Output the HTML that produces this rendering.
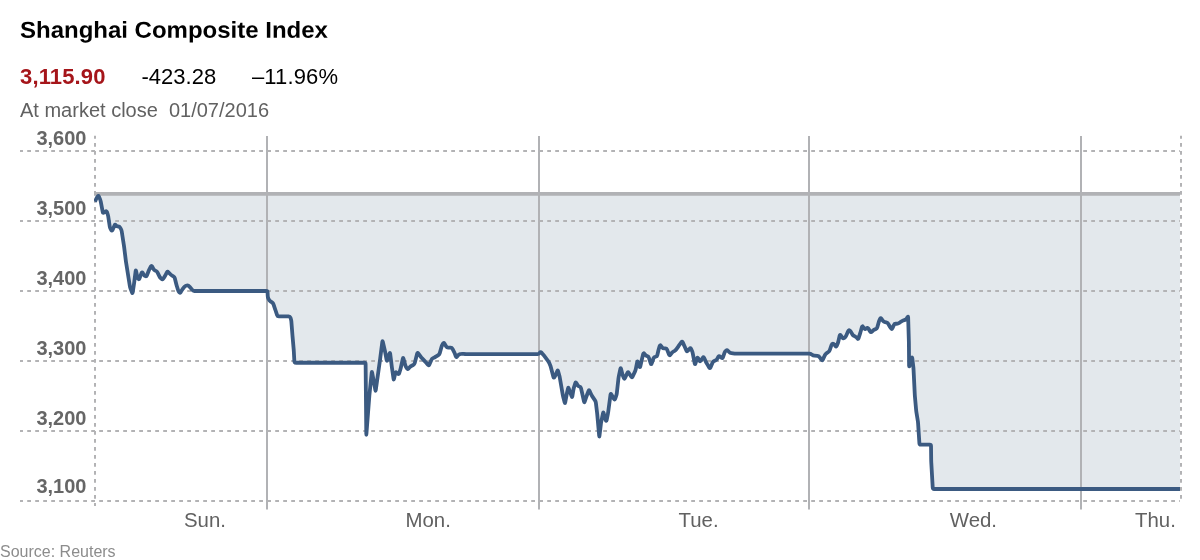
<!DOCTYPE html>
<html><head><meta charset="utf-8"><title>Shanghai Composite Index</title>
<style>
html,body{margin:0;padding:0;background:#fff;}
body{width:1200px;height:560px;overflow:hidden;position:relative;font-family:"Liberation Sans",sans-serif;}
svg{position:absolute;left:0;top:0;display:block;will-change:transform;}
text{font-family:"Liberation Sans",sans-serif;}
</style></head><body>
<svg width="1200" height="560" viewBox="0 0 1200 560">
<rect width="1200" height="560" fill="#fff"/>
<text x="20" y="0" transform="translate(0,37.7) rotate(0.03) scale(1,0.96)" font-size="24" font-weight="bold" fill="#000">Shanghai Composite Index</text>
<text x="20" y="83.8" font-size="22" font-weight="bold" fill="#a5151a" letter-spacing="0.15">3,115.90</text>
<text x="141.5" y="83.8" font-size="22" fill="#000">-423.28</text>
<text x="252" y="83.8" font-size="22" fill="#000" letter-spacing="0.12">–11.96%</text>
<text x="20" y="116.8" font-size="20" fill="#616161" xml:space="preserve">At market close  01/07/2016</text>
<path d="M95.00,201.60 L96.27,198.79 Q96.80,197.60 97.59,196.57 L97.71,196.43 Q98.50,195.40 98.99,196.60 L100.01,199.10 Q100.50,200.30 100.75,201.58 L102.75,212.02 Q103.00,213.30 104.04,212.52 L105.46,211.48 Q106.50,210.70 106.93,211.93 L107.57,213.77 Q108.00,215.00 108.20,216.28 L109.80,226.72 Q110.00,228.00 110.67,229.11 L111.33,230.19 Q112.00,231.30 112.51,230.10 L114.49,225.40 Q115.00,224.20 115.85,225.18 L116.15,225.52 Q117.00,226.50 118.25,226.50 L118.25,226.50 Q119.50,226.50 120.14,227.63 L120.86,228.87 Q121.50,230.00 121.70,231.28 L123.80,244.72 Q124.00,246.00 124.16,247.29 L125.84,260.71 Q126.00,262.00 126.21,263.28 L129.79,285.72 Q130.00,287.00 130.45,288.22 L132.05,292.58 Q132.50,293.80 132.70,292.51 L133.80,285.29 Q134.00,284.00 134.16,282.71 L135.64,270.99 Q135.80,269.70 136.06,270.97 L137.24,276.73 Q137.50,278.00 138.25,278.90 L138.25,278.90 Q139.00,279.80 139.45,278.58 L141.55,272.92 Q142.00,271.70 142.65,272.82 L143.85,274.88 Q144.50,276.00 145.50,276.25 L145.50,276.25 Q146.50,276.50 146.97,275.29 L148.53,271.21 Q149.00,270.00 149.60,268.85 L150.90,266.35 Q151.50,265.20 152.10,266.35 L153.40,268.85 Q154.00,270.00 155.16,270.58 L155.84,270.92 Q157.00,271.50 157.58,272.66 L159.42,276.34 Q160.00,277.50 160.96,278.38 L161.54,278.92 Q162.50,279.80 163.21,278.71 L164.29,277.09 Q165.00,276.00 165.60,274.85 L166.90,272.35 Q167.50,271.20 168.38,272.16 L170.12,274.04 Q171.00,275.00 172.13,275.64 L173.37,276.36 Q174.50,277.00 174.82,278.26 L176.18,283.74 Q176.50,285.00 176.88,286.24 L178.12,290.26 Q178.50,291.50 179.25,292.40 L179.25,292.40 Q180.00,293.30 180.67,292.19 L181.33,291.11 Q182.00,290.00 182.76,288.94 L183.74,287.56 Q184.50,286.50 185.66,285.92 L186.34,285.58 Q187.50,285.00 188.52,285.81 L188.98,286.19 Q190.00,287.00 190.78,288.04 L192.22,289.96 Q193.00,291.00 194.30,291.00 L266.20,291.00 Q267.50,291.00 267.56,292.30 L267.74,296.20 Q267.80,297.50 268.40,298.66 L268.80,299.44 Q269.40,300.60 270.48,301.33 L272.02,302.37 Q273.10,303.10 273.51,304.33 L274.59,307.52 Q275.00,308.75 275.40,309.99 L277.10,315.16 Q277.50,316.40 278.80,316.40 L288.70,316.40 Q290.00,316.40 290.43,317.63 L290.82,318.77 Q291.25,320.00 291.35,321.30 L292.40,334.70 Q292.50,336.00 292.62,337.29 L293.63,348.71 Q293.75,350.00 293.82,351.30 L294.33,360.60 Q294.40,361.90 294.70,362.32 L294.70,362.32 Q295.00,362.75 296.30,362.75 L364.30,362.75 Q365.60,362.75 365.61,364.05 L366.29,434.10 Q366.30,435.40 366.40,434.10 L369.30,396.30 Q369.40,395.00 369.54,393.71 L371.76,372.49 Q371.90,371.20 372.13,372.48 L375.37,390.12 Q375.60,391.40 375.78,390.11 L379.82,361.29 Q380.00,360.00 380.16,358.71 L382.34,341.74 Q382.50,340.45 382.79,341.72 L384.71,349.98 Q385.00,351.25 385.24,352.53 L386.66,360.12 Q386.90,361.40 387.28,360.16 L387.72,358.74 Q388.10,357.50 388.55,356.28 L389.55,353.52 Q390.00,352.30 390.16,353.59 L391.74,366.21 Q391.90,367.50 392.09,368.79 L393.56,378.91 Q393.75,380.20 394.03,378.93 L395.32,372.97 Q395.60,371.70 396.56,372.57 L397.79,373.68 Q398.75,374.55 399.15,373.31 L400.20,369.99 Q400.60,368.75 400.88,367.48 L402.82,358.57 Q403.10,357.30 403.45,358.55 L405.25,365.00 Q405.60,366.25 406.25,367.38 L406.85,368.42 Q407.50,369.55 408.39,368.60 L409.71,367.20 Q410.60,366.25 411.77,365.68 L413.23,364.97 Q414.40,364.40 414.72,363.14 L417.18,353.56 Q417.50,352.30 418.26,353.35 L420.49,356.45 Q421.25,357.50 422.17,358.42 L424.08,360.33 Q425.00,361.25 425.83,362.25 L427.92,364.80 Q428.75,365.80 429.28,364.61 L431.37,359.94 Q431.90,358.75 433.06,358.17 L434.44,357.48 Q435.60,356.90 436.69,356.19 L438.31,355.11 Q439.40,354.40 439.76,353.15 L441.54,346.85 Q441.90,345.60 442.54,344.47 L443.11,343.43 Q443.75,342.30 444.42,343.41 L446.23,346.39 Q446.90,347.50 448.20,347.56 L450.60,347.69 Q451.90,347.75 452.51,348.90 L453.79,351.35 Q454.40,352.50 454.84,353.72 L455.81,356.48 Q456.25,357.70 457.04,356.66 L457.96,355.44 Q458.75,354.40 460.02,354.12 L460.63,353.98 Q461.90,353.70 463.19,353.87 L463.71,353.93 Q465.00,354.10 466.30,354.10 L537.45,354.10 Q538.75,354.10 539.54,353.07 L539.81,352.73 Q540.60,351.70 541.48,352.65 L542.22,353.45 Q543.10,354.40 543.88,355.44 L547.97,360.86 Q548.75,361.90 549.26,363.10 L550.09,365.05 Q550.60,366.25 550.93,367.51 L553.42,377.04 Q553.75,378.30 554.44,377.20 L554.81,376.60 Q555.50,375.50 555.98,374.29 L557.22,371.11 Q557.70,369.90 558.06,371.15 L559.24,375.25 Q559.60,376.50 559.82,377.78 L562.68,394.42 Q562.90,395.70 563.23,396.96 L564.67,402.44 Q565.00,403.70 565.23,402.42 L566.47,395.58 Q566.70,394.30 566.98,393.03 L568.02,388.37 Q568.30,387.10 568.74,388.32 L569.96,391.68 Q570.40,392.90 570.83,394.13 L571.67,396.47 Q572.10,397.70 572.31,396.42 L573.39,389.88 Q573.60,388.60 573.98,387.36 L575.32,383.04 Q575.70,381.80 576.33,382.94 L577.47,384.96 Q578.10,386.10 579.34,386.48 L579.46,386.52 Q580.70,386.90 580.99,388.17 L582.11,393.03 Q582.40,394.30 582.68,395.57 L584.02,401.63 Q584.30,402.90 584.71,401.67 L586.29,396.93 Q586.70,395.70 587.16,394.48 L588.54,390.82 Q589.00,389.60 589.53,390.79 L590.87,393.81 Q591.40,395.00 592.12,396.08 L594.98,400.32 Q595.70,401.40 595.86,402.69 L596.94,411.61 Q597.10,412.90 597.22,414.19 L599.18,435.91 Q599.30,437.20 599.45,435.91 L600.85,424.19 Q601.00,422.90 601.26,421.63 L603.04,413.07 Q603.30,411.80 603.62,413.06 L604.68,417.34 Q605.00,418.60 605.57,419.77 L605.83,420.33 Q606.40,421.50 606.65,420.22 L607.85,414.18 Q608.10,412.90 608.27,411.61 L610.53,394.49 Q610.70,393.20 611.34,394.33 L612.26,395.97 Q612.90,397.10 613.57,398.21 L614.03,398.99 Q614.70,400.10 615.12,398.87 L616.28,395.53 Q616.70,394.30 616.84,393.01 L618.46,378.39 Q618.60,377.10 618.88,375.83 L620.42,368.77 Q620.70,367.50 621.02,368.76 L622.08,373.04 Q622.40,374.30 622.85,375.52 L623.85,378.18 Q624.30,379.40 624.86,378.23 L627.44,372.87 Q628.00,371.70 628.71,372.79 L631.29,376.71 Q632.00,377.80 632.56,376.63 L634.94,371.67 Q635.50,370.50 635.76,369.23 L637.24,361.97 Q637.50,360.70 637.93,361.93 L639.57,366.57 Q640.00,367.80 640.28,366.53 L641.22,362.27 Q641.50,361.00 641.80,359.74 L643.20,353.96 Q643.50,352.70 644.32,353.71 L645.18,354.79 Q646.00,355.80 647.25,356.15 L647.25,356.15 Q648.50,356.50 648.90,357.74 L650.80,363.56 Q651.20,364.80 651.64,363.58 L653.56,358.22 Q654.00,357.00 655.28,356.79 L655.72,356.71 Q657.00,356.50 657.29,355.23 L658.21,351.27 Q658.50,350.00 658.85,348.75 L659.65,345.95 Q660.00,344.70 660.81,345.72 L662.19,347.48 Q663.00,348.50 664.30,348.39 L665.20,348.31 Q666.50,348.20 666.98,349.41 L669.02,354.59 Q669.50,355.80 670.31,354.78 L671.69,353.02 Q672.50,352.00 673.66,351.42 L674.34,351.08 Q675.50,350.50 676.25,349.43 L678.25,346.57 Q679.00,345.50 679.78,344.46 L681.42,342.24 Q682.20,341.20 682.76,342.37 L683.44,343.83 Q684.00,345.00 684.52,346.19 L686.48,350.61 Q687.00,351.80 687.84,350.81 L689.66,348.69 Q690.50,347.70 691.05,348.88 L691.95,350.82 Q692.50,352.00 692.75,353.28 L694.75,363.52 Q695.00,364.80 695.40,363.56 L697.10,358.24 Q697.50,357.00 698.10,358.15 L699.40,360.65 Q700.00,361.80 700.74,360.73 L702.76,357.77 Q703.50,356.70 704.06,357.87 L705.94,361.83 Q706.50,363.00 707.17,364.11 L709.33,367.69 Q710.00,368.80 710.49,367.60 L712.51,362.70 Q713.00,361.50 714.19,360.99 L715.31,360.51 Q716.50,360.00 717.15,358.88 L718.35,356.82 Q719.00,355.70 720.00,356.53 L721.50,357.77 Q722.50,358.60 722.93,357.37 L724.57,352.73 Q725.00,351.50 725.97,350.63 L726.03,350.57 Q727.00,349.70 727.87,350.66 L729.13,352.04 Q730.00,353.00 731.29,353.15 L734.71,353.55 Q736.00,353.70 737.30,353.70 L809.30,353.70 Q810.60,353.70 811.64,354.49 L812.06,354.81 Q813.10,355.60 814.40,355.69 L817.45,355.91 Q818.75,356.00 819.52,357.05 L821.48,359.75 Q822.25,360.80 822.81,359.63 L825.04,354.92 Q825.60,353.75 826.69,353.04 L828.31,351.96 Q829.40,351.25 829.81,350.02 L831.49,344.98 Q831.90,343.75 832.83,343.75 L832.83,343.75 Q833.75,343.75 834.54,344.79 L835.46,346.01 Q836.25,347.05 836.74,345.85 L837.61,343.70 Q838.10,342.50 838.39,341.23 L839.71,335.47 Q840.00,334.20 840.72,335.29 L842.38,337.81 Q843.10,338.90 844.12,338.09 L844.58,337.71 Q845.60,336.90 846.13,335.71 L848.22,330.99 Q848.75,329.80 849.67,330.52 L849.67,330.52 Q850.60,331.25 851.25,332.38 L852.45,334.47 Q853.10,335.60 854.30,336.10 L855.05,336.40 Q856.25,336.90 856.99,337.97 L857.36,338.48 Q858.10,339.55 858.50,338.31 L860.20,333.14 Q860.60,331.90 860.93,330.64 L861.92,326.96 Q862.25,325.70 863.01,326.76 L864.24,328.49 Q865.00,329.55 865.97,328.68 L866.53,328.17 Q867.50,327.30 868.21,328.39 L870.29,331.61 Q871.00,332.70 871.89,331.75 L872.86,330.70 Q873.75,329.75 874.99,329.36 L875.66,329.14 Q876.90,328.75 877.25,327.50 L878.65,322.50 Q879.00,321.25 879.53,320.06 L880.07,318.89 Q880.60,317.70 881.38,318.74 L882.97,320.86 Q883.75,321.90 885.03,322.11 L886.22,322.29 Q887.50,322.50 888.14,323.63 L889.36,325.77 Q890.00,326.90 890.76,327.96 L891.14,328.49 Q891.90,329.55 892.41,328.36 L893.89,324.94 Q894.40,323.75 895.70,323.75 L896.80,323.75 Q898.10,323.75 899.15,322.99 L900.85,321.76 Q901.90,321.00 903.12,320.55 L905.03,319.85 Q906.25,319.40 906.89,318.27 L907.46,317.23 Q908.10,316.10 908.14,317.40 L908.86,341.20 Q908.90,342.50 908.91,343.80 L909.09,365.80 Q909.10,367.10 909.46,365.85 L911.74,358.05 Q912.10,356.80 912.25,358.09 L913.35,367.21 Q913.50,368.50 913.56,369.80 L914.74,393.70 Q914.80,395.00 914.91,396.30 L916.09,409.70 Q916.20,411.00 916.41,412.28 L917.79,420.72 Q918.00,422.00 918.09,423.30 L919.41,443.40 Q919.50,444.70 920.80,444.70 L929.70,444.70 Q931.00,444.70 931.02,446.00 L931.18,459.70 Q931.20,461.00 931.27,462.30 L932.73,487.70 Q932.80,489.00 934.10,489.00 L1180.00,489.00 L1180,193.8 L95,193.8 Z" fill="#e3e8ec"/>
<g stroke="#b3b3b5" stroke-width="2" stroke-dasharray="3.8 4.2" stroke-dashoffset="0.8" fill="none">
<line x1="20" y1="151" x2="1180" y2="151"/><line x1="20" y1="221" x2="1180" y2="221"/><line x1="20" y1="291" x2="1180" y2="291"/><line x1="20" y1="361" x2="1180" y2="361"/><line x1="20" y1="431" x2="1180" y2="431"/><line x1="20" y1="501" x2="1180" y2="501"/>
<line x1="95" y1="135.8" x2="95" y2="506"/>
<line x1="1181" y1="135.8" x2="1181" y2="502"/>
</g>
<g stroke="#b1b2b5" stroke-width="2" fill="none"><line x1="267" y1="136" x2="267" y2="509.5"/><line x1="539" y1="136" x2="539" y2="509.5"/><line x1="809" y1="136" x2="809" y2="509.5"/><line x1="1081" y1="136" x2="1081" y2="509.5"/></g>
<line x1="94" y1="193.8" x2="1180" y2="193.8" stroke="#b1b2b5" stroke-width="3.8"/>
<clipPath id="c"><rect x="94" y="130" width="1086.5" height="380"/></clipPath>
<path clip-path="url(#c)" d="M95.00,201.60 L96.27,198.79 Q96.80,197.60 97.59,196.57 L97.71,196.43 Q98.50,195.40 98.99,196.60 L100.01,199.10 Q100.50,200.30 100.75,201.58 L102.75,212.02 Q103.00,213.30 104.04,212.52 L105.46,211.48 Q106.50,210.70 106.93,211.93 L107.57,213.77 Q108.00,215.00 108.20,216.28 L109.80,226.72 Q110.00,228.00 110.67,229.11 L111.33,230.19 Q112.00,231.30 112.51,230.10 L114.49,225.40 Q115.00,224.20 115.85,225.18 L116.15,225.52 Q117.00,226.50 118.25,226.50 L118.25,226.50 Q119.50,226.50 120.14,227.63 L120.86,228.87 Q121.50,230.00 121.70,231.28 L123.80,244.72 Q124.00,246.00 124.16,247.29 L125.84,260.71 Q126.00,262.00 126.21,263.28 L129.79,285.72 Q130.00,287.00 130.45,288.22 L132.05,292.58 Q132.50,293.80 132.70,292.51 L133.80,285.29 Q134.00,284.00 134.16,282.71 L135.64,270.99 Q135.80,269.70 136.06,270.97 L137.24,276.73 Q137.50,278.00 138.25,278.90 L138.25,278.90 Q139.00,279.80 139.45,278.58 L141.55,272.92 Q142.00,271.70 142.65,272.82 L143.85,274.88 Q144.50,276.00 145.50,276.25 L145.50,276.25 Q146.50,276.50 146.97,275.29 L148.53,271.21 Q149.00,270.00 149.60,268.85 L150.90,266.35 Q151.50,265.20 152.10,266.35 L153.40,268.85 Q154.00,270.00 155.16,270.58 L155.84,270.92 Q157.00,271.50 157.58,272.66 L159.42,276.34 Q160.00,277.50 160.96,278.38 L161.54,278.92 Q162.50,279.80 163.21,278.71 L164.29,277.09 Q165.00,276.00 165.60,274.85 L166.90,272.35 Q167.50,271.20 168.38,272.16 L170.12,274.04 Q171.00,275.00 172.13,275.64 L173.37,276.36 Q174.50,277.00 174.82,278.26 L176.18,283.74 Q176.50,285.00 176.88,286.24 L178.12,290.26 Q178.50,291.50 179.25,292.40 L179.25,292.40 Q180.00,293.30 180.67,292.19 L181.33,291.11 Q182.00,290.00 182.76,288.94 L183.74,287.56 Q184.50,286.50 185.66,285.92 L186.34,285.58 Q187.50,285.00 188.52,285.81 L188.98,286.19 Q190.00,287.00 190.78,288.04 L192.22,289.96 Q193.00,291.00 194.30,291.00 L266.20,291.00 Q267.50,291.00 267.56,292.30 L267.74,296.20 Q267.80,297.50 268.40,298.66 L268.80,299.44 Q269.40,300.60 270.48,301.33 L272.02,302.37 Q273.10,303.10 273.51,304.33 L274.59,307.52 Q275.00,308.75 275.40,309.99 L277.10,315.16 Q277.50,316.40 278.80,316.40 L288.70,316.40 Q290.00,316.40 290.43,317.63 L290.82,318.77 Q291.25,320.00 291.35,321.30 L292.40,334.70 Q292.50,336.00 292.62,337.29 L293.63,348.71 Q293.75,350.00 293.82,351.30 L294.33,360.60 Q294.40,361.90 294.70,362.32 L294.70,362.32 Q295.00,362.75 296.30,362.75 L364.30,362.75 Q365.60,362.75 365.61,364.05 L366.29,434.10 Q366.30,435.40 366.40,434.10 L369.30,396.30 Q369.40,395.00 369.54,393.71 L371.76,372.49 Q371.90,371.20 372.13,372.48 L375.37,390.12 Q375.60,391.40 375.78,390.11 L379.82,361.29 Q380.00,360.00 380.16,358.71 L382.34,341.74 Q382.50,340.45 382.79,341.72 L384.71,349.98 Q385.00,351.25 385.24,352.53 L386.66,360.12 Q386.90,361.40 387.28,360.16 L387.72,358.74 Q388.10,357.50 388.55,356.28 L389.55,353.52 Q390.00,352.30 390.16,353.59 L391.74,366.21 Q391.90,367.50 392.09,368.79 L393.56,378.91 Q393.75,380.20 394.03,378.93 L395.32,372.97 Q395.60,371.70 396.56,372.57 L397.79,373.68 Q398.75,374.55 399.15,373.31 L400.20,369.99 Q400.60,368.75 400.88,367.48 L402.82,358.57 Q403.10,357.30 403.45,358.55 L405.25,365.00 Q405.60,366.25 406.25,367.38 L406.85,368.42 Q407.50,369.55 408.39,368.60 L409.71,367.20 Q410.60,366.25 411.77,365.68 L413.23,364.97 Q414.40,364.40 414.72,363.14 L417.18,353.56 Q417.50,352.30 418.26,353.35 L420.49,356.45 Q421.25,357.50 422.17,358.42 L424.08,360.33 Q425.00,361.25 425.83,362.25 L427.92,364.80 Q428.75,365.80 429.28,364.61 L431.37,359.94 Q431.90,358.75 433.06,358.17 L434.44,357.48 Q435.60,356.90 436.69,356.19 L438.31,355.11 Q439.40,354.40 439.76,353.15 L441.54,346.85 Q441.90,345.60 442.54,344.47 L443.11,343.43 Q443.75,342.30 444.42,343.41 L446.23,346.39 Q446.90,347.50 448.20,347.56 L450.60,347.69 Q451.90,347.75 452.51,348.90 L453.79,351.35 Q454.40,352.50 454.84,353.72 L455.81,356.48 Q456.25,357.70 457.04,356.66 L457.96,355.44 Q458.75,354.40 460.02,354.12 L460.63,353.98 Q461.90,353.70 463.19,353.87 L463.71,353.93 Q465.00,354.10 466.30,354.10 L537.45,354.10 Q538.75,354.10 539.54,353.07 L539.81,352.73 Q540.60,351.70 541.48,352.65 L542.22,353.45 Q543.10,354.40 543.88,355.44 L547.97,360.86 Q548.75,361.90 549.26,363.10 L550.09,365.05 Q550.60,366.25 550.93,367.51 L553.42,377.04 Q553.75,378.30 554.44,377.20 L554.81,376.60 Q555.50,375.50 555.98,374.29 L557.22,371.11 Q557.70,369.90 558.06,371.15 L559.24,375.25 Q559.60,376.50 559.82,377.78 L562.68,394.42 Q562.90,395.70 563.23,396.96 L564.67,402.44 Q565.00,403.70 565.23,402.42 L566.47,395.58 Q566.70,394.30 566.98,393.03 L568.02,388.37 Q568.30,387.10 568.74,388.32 L569.96,391.68 Q570.40,392.90 570.83,394.13 L571.67,396.47 Q572.10,397.70 572.31,396.42 L573.39,389.88 Q573.60,388.60 573.98,387.36 L575.32,383.04 Q575.70,381.80 576.33,382.94 L577.47,384.96 Q578.10,386.10 579.34,386.48 L579.46,386.52 Q580.70,386.90 580.99,388.17 L582.11,393.03 Q582.40,394.30 582.68,395.57 L584.02,401.63 Q584.30,402.90 584.71,401.67 L586.29,396.93 Q586.70,395.70 587.16,394.48 L588.54,390.82 Q589.00,389.60 589.53,390.79 L590.87,393.81 Q591.40,395.00 592.12,396.08 L594.98,400.32 Q595.70,401.40 595.86,402.69 L596.94,411.61 Q597.10,412.90 597.22,414.19 L599.18,435.91 Q599.30,437.20 599.45,435.91 L600.85,424.19 Q601.00,422.90 601.26,421.63 L603.04,413.07 Q603.30,411.80 603.62,413.06 L604.68,417.34 Q605.00,418.60 605.57,419.77 L605.83,420.33 Q606.40,421.50 606.65,420.22 L607.85,414.18 Q608.10,412.90 608.27,411.61 L610.53,394.49 Q610.70,393.20 611.34,394.33 L612.26,395.97 Q612.90,397.10 613.57,398.21 L614.03,398.99 Q614.70,400.10 615.12,398.87 L616.28,395.53 Q616.70,394.30 616.84,393.01 L618.46,378.39 Q618.60,377.10 618.88,375.83 L620.42,368.77 Q620.70,367.50 621.02,368.76 L622.08,373.04 Q622.40,374.30 622.85,375.52 L623.85,378.18 Q624.30,379.40 624.86,378.23 L627.44,372.87 Q628.00,371.70 628.71,372.79 L631.29,376.71 Q632.00,377.80 632.56,376.63 L634.94,371.67 Q635.50,370.50 635.76,369.23 L637.24,361.97 Q637.50,360.70 637.93,361.93 L639.57,366.57 Q640.00,367.80 640.28,366.53 L641.22,362.27 Q641.50,361.00 641.80,359.74 L643.20,353.96 Q643.50,352.70 644.32,353.71 L645.18,354.79 Q646.00,355.80 647.25,356.15 L647.25,356.15 Q648.50,356.50 648.90,357.74 L650.80,363.56 Q651.20,364.80 651.64,363.58 L653.56,358.22 Q654.00,357.00 655.28,356.79 L655.72,356.71 Q657.00,356.50 657.29,355.23 L658.21,351.27 Q658.50,350.00 658.85,348.75 L659.65,345.95 Q660.00,344.70 660.81,345.72 L662.19,347.48 Q663.00,348.50 664.30,348.39 L665.20,348.31 Q666.50,348.20 666.98,349.41 L669.02,354.59 Q669.50,355.80 670.31,354.78 L671.69,353.02 Q672.50,352.00 673.66,351.42 L674.34,351.08 Q675.50,350.50 676.25,349.43 L678.25,346.57 Q679.00,345.50 679.78,344.46 L681.42,342.24 Q682.20,341.20 682.76,342.37 L683.44,343.83 Q684.00,345.00 684.52,346.19 L686.48,350.61 Q687.00,351.80 687.84,350.81 L689.66,348.69 Q690.50,347.70 691.05,348.88 L691.95,350.82 Q692.50,352.00 692.75,353.28 L694.75,363.52 Q695.00,364.80 695.40,363.56 L697.10,358.24 Q697.50,357.00 698.10,358.15 L699.40,360.65 Q700.00,361.80 700.74,360.73 L702.76,357.77 Q703.50,356.70 704.06,357.87 L705.94,361.83 Q706.50,363.00 707.17,364.11 L709.33,367.69 Q710.00,368.80 710.49,367.60 L712.51,362.70 Q713.00,361.50 714.19,360.99 L715.31,360.51 Q716.50,360.00 717.15,358.88 L718.35,356.82 Q719.00,355.70 720.00,356.53 L721.50,357.77 Q722.50,358.60 722.93,357.37 L724.57,352.73 Q725.00,351.50 725.97,350.63 L726.03,350.57 Q727.00,349.70 727.87,350.66 L729.13,352.04 Q730.00,353.00 731.29,353.15 L734.71,353.55 Q736.00,353.70 737.30,353.70 L809.30,353.70 Q810.60,353.70 811.64,354.49 L812.06,354.81 Q813.10,355.60 814.40,355.69 L817.45,355.91 Q818.75,356.00 819.52,357.05 L821.48,359.75 Q822.25,360.80 822.81,359.63 L825.04,354.92 Q825.60,353.75 826.69,353.04 L828.31,351.96 Q829.40,351.25 829.81,350.02 L831.49,344.98 Q831.90,343.75 832.83,343.75 L832.83,343.75 Q833.75,343.75 834.54,344.79 L835.46,346.01 Q836.25,347.05 836.74,345.85 L837.61,343.70 Q838.10,342.50 838.39,341.23 L839.71,335.47 Q840.00,334.20 840.72,335.29 L842.38,337.81 Q843.10,338.90 844.12,338.09 L844.58,337.71 Q845.60,336.90 846.13,335.71 L848.22,330.99 Q848.75,329.80 849.67,330.52 L849.67,330.52 Q850.60,331.25 851.25,332.38 L852.45,334.47 Q853.10,335.60 854.30,336.10 L855.05,336.40 Q856.25,336.90 856.99,337.97 L857.36,338.48 Q858.10,339.55 858.50,338.31 L860.20,333.14 Q860.60,331.90 860.93,330.64 L861.92,326.96 Q862.25,325.70 863.01,326.76 L864.24,328.49 Q865.00,329.55 865.97,328.68 L866.53,328.17 Q867.50,327.30 868.21,328.39 L870.29,331.61 Q871.00,332.70 871.89,331.75 L872.86,330.70 Q873.75,329.75 874.99,329.36 L875.66,329.14 Q876.90,328.75 877.25,327.50 L878.65,322.50 Q879.00,321.25 879.53,320.06 L880.07,318.89 Q880.60,317.70 881.38,318.74 L882.97,320.86 Q883.75,321.90 885.03,322.11 L886.22,322.29 Q887.50,322.50 888.14,323.63 L889.36,325.77 Q890.00,326.90 890.76,327.96 L891.14,328.49 Q891.90,329.55 892.41,328.36 L893.89,324.94 Q894.40,323.75 895.70,323.75 L896.80,323.75 Q898.10,323.75 899.15,322.99 L900.85,321.76 Q901.90,321.00 903.12,320.55 L905.03,319.85 Q906.25,319.40 906.89,318.27 L907.46,317.23 Q908.10,316.10 908.14,317.40 L908.86,341.20 Q908.90,342.50 908.91,343.80 L909.09,365.80 Q909.10,367.10 909.46,365.85 L911.74,358.05 Q912.10,356.80 912.25,358.09 L913.35,367.21 Q913.50,368.50 913.56,369.80 L914.74,393.70 Q914.80,395.00 914.91,396.30 L916.09,409.70 Q916.20,411.00 916.41,412.28 L917.79,420.72 Q918.00,422.00 918.09,423.30 L919.41,443.40 Q919.50,444.70 920.80,444.70 L929.70,444.70 Q931.00,444.70 931.02,446.00 L931.18,459.70 Q931.20,461.00 931.27,462.30 L932.73,487.70 Q932.80,489.00 934.10,489.00 L1180.00,489.00" fill="none" stroke="#3b5a81" stroke-width="3.8" stroke-linejoin="round" stroke-linecap="butt"/>
<g font-size="20" font-weight="bold" fill="#666"><text x="86.5" y="145" text-anchor="end">3,600</text><text x="86.5" y="215" text-anchor="end">3,500</text><text x="86.5" y="285" text-anchor="end">3,400</text><text x="86.5" y="355" text-anchor="end">3,300</text><text x="86.5" y="425" text-anchor="end">3,200</text><text x="86.5" y="493" text-anchor="end">3,100</text></g>
<g font-size="20.4" fill="#616161"><text x="184" y="527.2">Sun.</text><text x="405.5" y="527.2">Mon.</text><text x="678.5" y="527.2">Tue.</text><text x="949.8" y="527.2">Wed.</text><text x="1135" y="527.2">Thu.</text></g>
<text x="0" y="556.6" font-size="16" fill="#8c8c8c">Source: Reuters</text>
</svg>
</body></html>
